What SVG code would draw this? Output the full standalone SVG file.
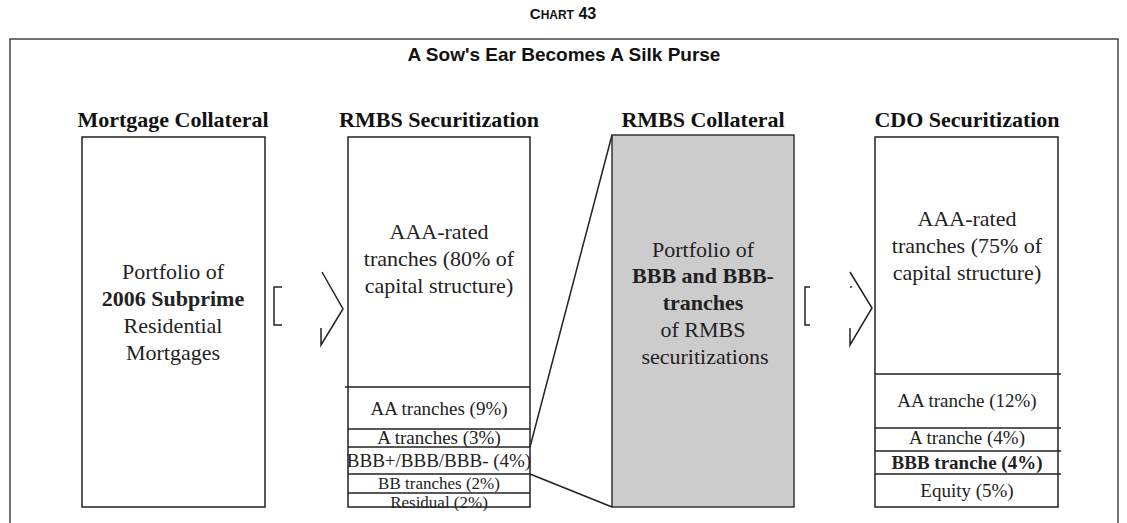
<svg xmlns="http://www.w3.org/2000/svg" width="1127" height="523" viewBox="0 0 1127 523">
<defs>
<style>
.frame{fill:none;stroke:#444;stroke-width:1.5}
.box{fill:#fff;stroke:#222;stroke-width:1.5}
.gbox{fill:#cccccc;stroke:#333;stroke-width:1.5}
.ln{stroke:#222;stroke-width:1.5;fill:none}
.sans{font-family:"Liberation Sans",Arial,sans-serif;font-weight:bold;fill:#111}
.hd{font-family:"Liberation Serif","Times New Roman",serif;font-weight:bold;font-size:22px;fill:#111;text-anchor:middle}
.tx{font-family:"Liberation Serif","Times New Roman",serif;font-size:22px;fill:#222;text-anchor:middle}
.tr{font-family:"Liberation Serif","Times New Roman",serif;font-size:19px;fill:#222;text-anchor:middle}
.sm{font-size:17px}
.b{font-weight:bold}
</style>
<clipPath id="clipRes"><rect x="340" y="490" width="200" height="21"/></clipPath>
</defs>
<rect class="frame" x="10" y="39" width="1108" height="520"/>
<text class="sans" x="563" y="19" text-anchor="middle"><tspan font-size="15">C</tspan><tspan font-size="12">HART</tspan><tspan font-size="16"> 43</tspan></text>
<text class="sans" x="564" y="61" font-size="19" text-anchor="middle">A Sow's Ear Becomes A Silk Purse</text>

<g id="mortgage">
<text class="hd" x="173" y="127">Mortgage Collateral</text>
<rect class="box" x="82" y="137" width="183" height="370"/>
<text class="tx" x="173" y="279">Portfolio of</text>
<text class="tx b" x="173" y="306">2006 Subprime</text>
<text class="tx" x="173" y="333">Residential</text>
<text class="tx" x="173" y="360">Mortgages</text>
</g>

<g id="rmbs">
<text class="hd" x="439" y="127">RMBS Securitization</text>
<rect class="box" x="348" y="137" width="182" height="370"/>
<line class="ln" x1="345" y1="387" x2="530" y2="387"/>
<line class="ln" x1="348" y1="429" x2="530" y2="429"/>
<line class="ln" x1="348" y1="447" x2="530" y2="447"/>
<line class="ln" x1="348" y1="474" x2="530" y2="474"/>
<line class="ln" x1="348" y1="493" x2="530" y2="493"/>
<text class="tx" x="439" y="239">AAA-rated</text>
<text class="tx" x="439" y="266">tranches (80% of</text>
<text class="tx" x="439" y="293">capital structure)</text>
<text class="tr" x="439" y="415">AA tranches (9%)</text>
<text class="tr" x="439" y="444">A tranches (3%)</text>
<text class="tr" x="439" y="467" font-size="18">BBB+/BBB/BBB- (4%)</text>
<text class="tr sm" x="439" y="489">BB tranches (2%)</text>
<text class="tr sm" x="439" y="508" clip-path="url(#clipRes)">Residual (2%)</text>
</g>

<g id="rmbs-collateral">
<text class="hd" x="703" y="127">RMBS Collateral</text>
<rect class="gbox" x="612" y="135" width="182" height="372"/>
<text class="tx" x="703" y="257">Portfolio of</text>
<text class="tx b" x="703" y="283">BBB and BBB-</text>
<text class="tx b" x="703" y="310">tranches</text>
<text class="tx" x="703" y="337">of RMBS</text>
<text class="tx" x="705" y="364">securitizations</text>
</g>

<g id="cdo">
<text class="hd" x="967" y="127">CDO Securitization</text>
<rect class="box" x="875" y="137" width="183" height="370"/>
<line class="ln" x1="875" y1="374" x2="1061" y2="374"/>
<line class="ln" x1="875" y1="428" x2="1061" y2="428"/>
<line class="ln" x1="875" y1="451" x2="1061" y2="451"/>
<line class="ln" x1="875" y1="474" x2="1061" y2="474"/>
<text class="tx" x="967" y="226">AAA-rated</text>
<text class="tx" x="967" y="253">tranches (75% of</text>
<text class="tx" x="967" y="280">capital structure)</text>
<text class="tr" x="967" y="407">AA tranche (12%)</text>
<text class="tr" x="967" y="444">A tranche (4%)</text>
<text class="tr b" x="967" y="469">BBB tranche (4%)</text>
<text class="tr" x="967" y="497">Equity (5%)</text>
</g>

<g id="connectors">
<line class="ln" x1="530" y1="447" x2="612" y2="135"/>
<line class="ln" x1="530" y1="474" x2="612" y2="507"/>
<polyline class="ln" points="282,287 274,287 274,325 282,325"/>
<polyline class="ln" points="322,272 343,309 321,345 321,328"/>
<polyline class="ln" points="810,287 805,287 805,325 810,325"/>
<polyline class="ln" points="850,272 872,308 850,345 850,328"/>
<line class="ln" x1="851" y1="286" x2="851" y2="288"/>
</g>
</svg>
